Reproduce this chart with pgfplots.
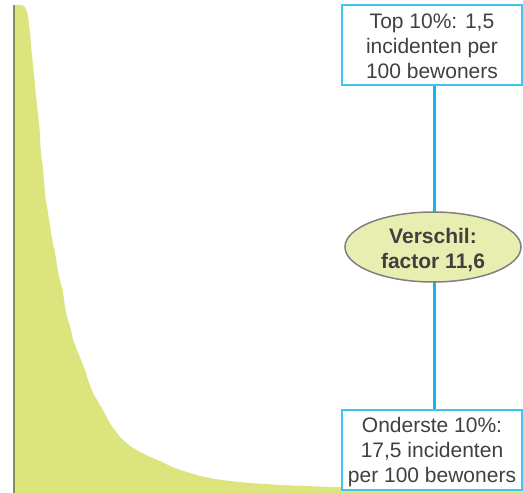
\documentclass[border=0pt]{standalone}
\usepackage{pgfplots}
\pgfplotsset{compat=1.18}
\usepackage{fontspec}
\setmainfont{Liberation Sans}
\definecolor{areafill}{RGB}{220,229,125}
\definecolor{axisline}{RGB}{140,140,90}
\definecolor{boxblue}{RGB}{64,196,240}
\definecolor{lineblue}{RGB}{20,180,240}
\definecolor{ellfill}{RGB}{232,238,176}
\definecolor{txt}{RGB}{64,64,64}
\begin{document}
\begin{tikzpicture}
\begin{axis}[
  width=523pt, height=493pt, scale only axis,
  xmin=0, xmax=523, ymin=0, ymax=493,
  axis lines=none, ticks=none, clip=false,
]
\addplot[fill=areafill, draw=none] coordinates {
(14,488) (22,488) (25,486) (27,481) (28.3,475) (29.3,466) (30.3,458)
(31.7,440) (32.7,430) (33.7,421) (34.7,412) (35.7,399) (36.7,391)
(37.7,381) (39.3,368) (40.7,343) (41.7,333) (42.7,328) (43.7,316)
(44.7,303) (45.7,293) (46.7,288) (48,280) (49,273) (50,268) (51,260)
(52.3,253) (53.5,246) (54.7,243) (55.7,236) (57.3,226) (58.3,220)
(60,213) (61.3,208) (62.7,203) (64,193) (66,180) (68,173) (71,163)
(73,153) (77,143) (81,133) (85,123) (88,113) (93,100) (97,93)
(103,83) (108,73) (113,65) (120,56) (130,47) (140,41) (150,36)
(160,32) (170,27) (180,23) (190,20) (200,17) (215,14) (230,12)
(250,10) (280,8) (330,6) (400,5) (523,4)
} \closedcycle;
\draw[axisline, line width=2.5pt] (axis cs:14,0) -- (axis cs:14,488);
% connector
\draw[lineblue, line width=3pt] (axis cs:434,408) -- (axis cs:434,83);
% top box
\draw[boxblue, line width=2pt, fill=white] (axis cs:342,408) rectangle (axis cs:522,488);
\node[text=txt, align=center, font=\fontsize{21}{25}\selectfont] at (axis cs:432,447)
  {Top 10\%: 1,5\\incidenten per\\100 bewoners};
% bottom box
\draw[boxblue, line width=2pt, fill=white] (axis cs:342,3) rectangle (axis cs:522,83);
\node[text=txt, align=center, font=\fontsize{21}{25}\selectfont] at (axis cs:432,41)
  {Onderste 10\%:\\17,5 incidenten\\per 100 bewoners};
% ellipse
\draw[gray, line width=1.5pt, fill=ellfill] (axis cs:433,246) ellipse [x radius=88pt, y radius=35pt];
\node[text=txt, align=center, font=\fontsize{21}{25}\selectfont\bfseries] at (axis cs:433,243)
  {Verschil:\\factor 11,6};
\end{axis}
\pgfresetboundingbox
\path (current axis.south west) rectangle (current axis.north east);
\end{tikzpicture}
\end{document}
